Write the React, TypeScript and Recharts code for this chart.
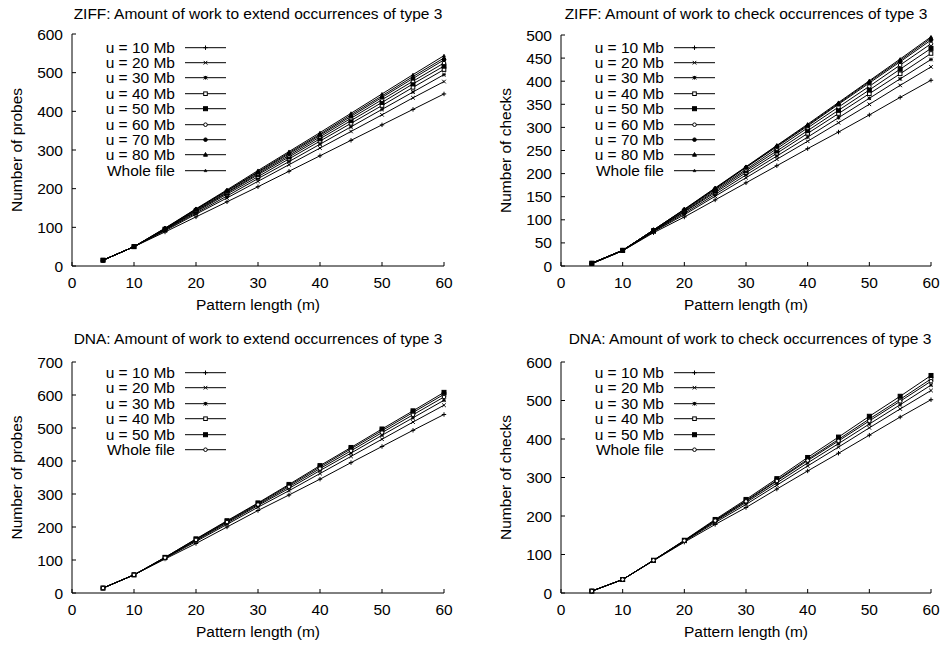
import React from "react";
import { LineChart, Line, XAxis, YAxis, Legend } from "recharts";

const FONT = '"Liberation Sans", Arial, Helvetica, sans-serif';
const FS = 15.5;

// pattern lengths (m) on the x axis
const patternLengths = [5, 10, 15, 20, 25, 30, 35, 40, 45, 50, 55, 60];
const xTicks = [0, 10, 20, 30, 40, 50, 60];

// ZIFF: amount of work to extend occurrences of type 3
const ziffExtU10 = [15, 50, 88, 127, 166, 205, 245, 285, 325, 365, 405, 445];
const ziffExtU20 = [15, 50, 91, 134, 176, 219, 262, 305, 348, 391, 435, 477];
const ziffExtU30 = [15, 50, 93, 137, 181, 226, 270, 315, 360, 405, 450, 495];
const ziffExtU40 = [15, 50, 94, 140, 186, 231, 277, 323, 369, 415, 462, 508];
const ziffExtU50 = [15, 50, 95, 142, 189, 236, 282, 329, 376, 423, 471, 517];
const ziffExtU60 = [15, 50, 96, 144, 191, 239, 286, 334, 382, 430, 478, 525];
const ziffExtU70 = [15, 50, 97, 146, 194, 242, 290, 338, 387, 436, 485, 533];
const ziffExtU80 = [15, 50, 97, 147, 195, 244, 293, 341, 391, 440, 490, 538];
const ziffExtWhole = [15, 50, 98, 148, 197, 247, 296, 345, 395, 445, 495, 544];

// ZIFF: amount of work to check occurrences of type 3
const ziffChkU10 = [5, 33, 72, 106, 143, 180, 217, 254, 290, 327, 365, 402];
const ziffChkU20 = [5, 33, 74, 111, 151, 191, 231, 270, 310, 350, 391, 431];
const ziffChkU30 = [5, 33, 75, 114, 155, 197, 238, 279, 321, 363, 405, 447];
const ziffChkU40 = [6, 34, 76, 117, 159, 202, 244, 287, 330, 373, 416, 460];
const ziffChkU50 = [6, 34, 76, 118, 162, 206, 249, 293, 337, 381, 426, 471];
const ziffChkU60 = [6, 34, 77, 120, 165, 209, 254, 299, 344, 389, 435, 481];
const ziffChkU70 = [6, 34, 78, 122, 167, 213, 258, 303, 350, 396, 442, 489];
const ziffChkU80 = [6, 34, 78, 122, 168, 214, 260, 305, 352, 399, 445, 493];
const ziffChkWhole = [6, 34, 78, 123, 169, 215, 261, 307, 354, 401, 448, 496];

// DNA: amount of work to extend occurrences of type 3
const dnaExtU10 = [15, 55, 103, 150, 200, 250, 297, 345, 395, 444, 493, 541];
const dnaExtU20 = [15, 55, 105, 156, 208, 260, 310, 362, 414, 466, 518, 569];
const dnaExtU30 = [15, 55, 106, 159, 212, 265, 317, 371, 424, 478, 531, 584];
const dnaExtU40 = [15, 55, 108, 163, 217, 271, 326, 382, 437, 492, 547, 602];
const dnaExtU50 = [15, 55, 108, 164, 219, 273, 329, 386, 441, 497, 552, 608];
const dnaExtWhole = [15, 55, 107, 161, 215, 268, 322, 377, 431, 486, 540, 594];

// DNA: amount of work to check occurrences of type 3
const dnaChkU10 = [5, 35, 84, 132, 178, 222, 270, 317, 363, 410, 457, 502];
const dnaChkU20 = [5, 35, 84, 134, 183, 230, 280, 330, 379, 429, 478, 526];
const dnaChkU30 = [5, 35, 85, 135, 186, 235, 286, 338, 388, 439, 489, 540];
const dnaChkU40 = [5, 35, 85, 136, 189, 240, 293, 347, 399, 452, 503, 556];
const dnaChkU50 = [5, 35, 85, 137, 191, 243, 297, 352, 405, 459, 511, 565];
const dnaChkWhole = [5, 35, 85, 136, 188, 238, 291, 344, 395, 447, 498, 550];

const uNames = ["u = 10 Mb", "u = 20 Mb", "u = 30 Mb", "u = 40 Mb", "u = 50 Mb", "u = 60 Mb", "u = 70 Mb", "u = 80 Mb"];
const zipMarkers = ["plus", "cross", "star", "square", "fsquare", "circle", "fcircle", "triangle", "stri"];
const dnaMarkers = ["plus", "cross", "star", "square", "fsquare", "circle"];

type Series = { key: string; name: string; kind: string; values: number[] };

function makeSeries(lists: number[][], markers: string[]): Series[] {
  return lists.map((values, i) => ({
    key: "s" + i,
    name: i === lists.length - 1 ? "Whole file" : uNames[i],
    kind: markers[i],
    values,
  }));
}

function Marker({ kind, cx, cy }: { kind: string; cx: number; cy: number }) {
  const s = 1.8;
  const st = { stroke: "#000", strokeWidth: 1 };
  switch (kind) {
    case "plus":
      return <path d={`M${cx - s - 0.4},${cy}H${cx + s + 0.4}M${cx},${cy - s - 0.4}V${cy + s + 0.4}`} fill="none" {...st} />;
    case "cross":
      return <path d={`M${cx - s},${cy - s}L${cx + s},${cy + s}M${cx - s},${cy + s}L${cx + s},${cy - s}`} fill="none" {...st} />;
    case "star":
      return (
        <path
          d={`M${cx - s},${cy}H${cx + s}M${cx},${cy - s}V${cy + s}M${cx - s},${cy - s}L${cx + s},${cy + s}M${cx - s},${cy + s}L${cx + s},${cy - s}`}
          fill="none"
          {...st}
        />
      );
    case "square":
      return <rect x={cx - s} y={cy - s} width={2 * s} height={2 * s} fill="#fff" {...st} />;
    case "fsquare":
      return <rect x={cx - 2} y={cy - 2} width={4} height={4} fill="#000" {...st} />;
    case "circle":
      return <circle cx={cx} cy={cy} r={s} fill="#fff" {...st} />;
    case "fcircle":
      return <circle cx={cx} cy={cy} r={s} fill="#000" {...st} />;
    case "triangle":
      return <path d={`M${cx},${cy - 2.2}L${cx + 2},${cy + 1.5}L${cx - 2},${cy + 1.5}Z`} fill="#000" {...st} />;
    default:
      return <path d={`M${cx},${cy - 1.6}L${cx + 1.5},${cy + 1}L${cx - 1.5},${cy + 1}Z`} fill="#000" stroke="#000" strokeWidth={0.5} />;
  }
}

function LegendBox({ series }: { series: Series[] }) {
  return (
    <div style={{ fontFamily: FONT, fontSize: FS, color: "#000" }}>
      {series.map((s) => (
        <div key={s.key} style={{ display: "flex", alignItems: "center", height: 15.4 }}>
          <span style={{ width: 100, textAlign: "right", lineHeight: "15.4px", whiteSpace: "nowrap" }}>{s.name}</span>
          <svg width={41} height={15.4} style={{ marginLeft: 10, display: "block" }}>
            <line x1={0} y1={7.7} x2={41} y2={7.7} stroke="#000" strokeWidth={1} />
            <Marker kind={s.kind} cx={20.5} cy={7.7} />
          </svg>
        </div>
      ))}
    </div>
  );
}

type PanelProps = {
  left: number;
  top: number;
  height: number;
  marginTop: number;
  marginRight: number;
  xAxisHeight: number;
  title: string;
  titleX: number;
  titleTop: number;
  yLabel: string;
  yTicks: number[];
  series: Series[];
  legendTop: number;
};

function Panel(p: PanelProps) {
  const rows = patternLengths.map((m, i) => {
    const r: any = { m };
    p.series.forEach((s) => (r[s.key] = s.values[i]));
    return r;
  });
  const yMax = p.yTicks[p.yTicks.length - 1];
  const tickStyle = { fontSize: FS, fill: "#000", fontFamily: FONT };
  return (
    <>
      <div
        style={{
          position: "absolute",
          left: p.titleX - 250,
          width: 500,
          top: p.titleTop,
          textAlign: "center",
          fontFamily: FONT,
          fontSize: FS,
          lineHeight: "15.5px",
          color: "#000",
        }}
      >
        {p.title}
      </div>
      <div style={{ position: "absolute", left: p.left, top: p.top }}>
        <LineChart
          width={454}
          height={p.height}
          data={rows}
          margin={{ top: p.marginTop, right: p.marginRight, left: 0, bottom: 0 }}
          style={{ fontFamily: FONT }}
        >
          <XAxis
            dataKey="m"
            type="number"
            domain={[0, 60]}
            ticks={xTicks}
            height={p.xAxisHeight}
            tickSize={-4}
            tickMargin={15}
            tick={tickStyle}
            axisLine={{ stroke: "#000" }}
            tickLine={{ stroke: "#000" }}
            label={{ value: "Pattern length (m)", position: "insideTop", offset: 33, fill: "#000", fontSize: FS, fontFamily: FONT }}
          />
          <XAxis
            xAxisId="top"
            orientation="top"
            dataKey="m"
            type="number"
            domain={[0, 60]}
            ticks={xTicks}
            height={0}
            tickSize={-4}
            tick={false}
            axisLine={{ stroke: "#000" }}
            tickLine={{ stroke: "#000" }}
          />
          <YAxis
            type="number"
            domain={[0, yMax]}
            ticks={p.yTicks}
            width={72}
            tickSize={-4}
            tickMargin={13}
            tick={tickStyle}
            axisLine={{ stroke: "#000" }}
            tickLine={{ stroke: "#000" }}
            label={{
              value: p.yLabel,
              angle: -90,
              position: "insideLeft",
              offset: 16,
              fill: "#000",
              fontSize: FS,
              fontFamily: FONT,
              style: { textAnchor: "middle" },
            }}
          />
          <YAxis
            yAxisId="right"
            orientation="right"
            type="number"
            domain={[0, yMax]}
            ticks={p.yTicks}
            width={0}
            tickSize={-4}
            tick={false}
            axisLine={{ stroke: "#000" }}
            tickLine={{ stroke: "#000" }}
          />
          <Legend
            layout="horizontal"
            verticalAlign="middle"
            align="center"
            wrapperStyle={{ left: 75, top: p.legendTop, width: "auto", height: "auto" }}
            content={() => <LegendBox series={p.series} />}
          />
          {p.series.map((s) => (
            <Line
              key={s.key}
              dataKey={s.key}
              name={s.name}
              type="linear"
              stroke="#000"
              strokeWidth={1}
              isAnimationActive={false}
              activeDot={false}
              dot={(d: any) => <Marker key={s.key + "-" + d.index} kind={s.kind} cx={d.cx} cy={d.cy} />}
            />
          ))}
        </LineChart>
      </div>
    </>
  );
}

const ziffExtSeries = makeSeries(
  [ziffExtU10, ziffExtU20, ziffExtU30, ziffExtU40, ziffExtU50, ziffExtU60, ziffExtU70, ziffExtU80, ziffExtWhole],
  zipMarkers
);
const ziffChkSeries = makeSeries(
  [ziffChkU10, ziffChkU20, ziffChkU30, ziffChkU40, ziffChkU50, ziffChkU60, ziffChkU70, ziffChkU80, ziffChkWhole],
  zipMarkers
);
const dnaExtSeries = makeSeries([dnaExtU10, dnaExtU20, dnaExtU30, dnaExtU40, dnaExtU50, dnaExtWhole], dnaMarkers);
const dnaChkSeries = makeSeries([dnaChkU10, dnaChkU20, dnaChkU30, dnaChkU40, dnaChkU50, dnaChkWhole], dnaMarkers);

export default function App() {
  return (
    <div style={{ position: "absolute", left: 0, top: 0, width: 942, height: 645, background: "#fff", overflow: "hidden" }}>
      <Panel
        left={0}
        top={0}
        height={322}
        marginTop={34}
        marginRight={10}
        xAxisHeight={56}
        title="ZIFF: Amount of work to extend occurrences of type 3"
        titleX={258}
        titleTop={5.5}
        yLabel="Number of probes"
        yTicks={[0, 100, 200, 300, 400, 500, 600]}
        series={ziffExtSeries}
        legendTop={39.6}
      />
      <Panel
        left={489}
        top={0}
        height={322}
        marginTop={35}
        marginRight={12}
        xAxisHeight={56}
        title="ZIFF: Amount of work to check occurrences of type 3"
        titleX={746}
        titleTop={5.5}
        yLabel="Number of checks"
        yTicks={[0, 50, 100, 150, 200, 250, 300, 350, 400, 450, 500]}
        series={ziffChkSeries}
        legendTop={39.6}
      />
      <Panel
        left={0}
        top={322}
        height={323}
        marginTop={40}
        marginRight={10}
        xAxisHeight={52}
        title="DNA: Amount of work to extend occurrences of type 3"
        titleX={258}
        titleTop={331}
        yLabel="Number of probes"
        yTicks={[0, 100, 200, 300, 400, 500, 600, 700]}
        series={dnaExtSeries}
        legendTop={43}
      />
      <Panel
        left={489}
        top={322}
        height={323}
        marginTop={40}
        marginRight={12}
        xAxisHeight={52}
        title="DNA: Amount of work to check occurrences of type 3"
        titleX={750}
        titleTop={331}
        yLabel="Number of checks"
        yTicks={[0, 100, 200, 300, 400, 500, 600]}
        series={dnaChkSeries}
        legendTop={43}
      />
    </div>
  );
}
